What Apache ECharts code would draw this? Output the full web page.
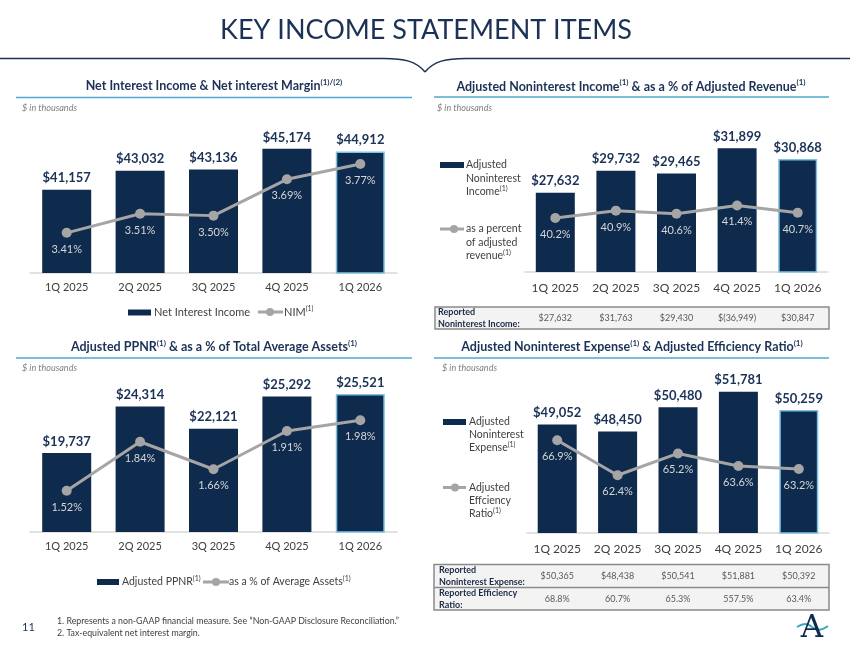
<!DOCTYPE html>
<html><head><meta charset="utf-8">
<script src="https://cdn.jsdelivr.net/npm/echarts@6/dist/echarts.min.js"></script>
<style>html,body{margin:0;padding:0;background:#fff}#c{width:850px;height:657px}</style>
</head><body><div id="c"></div>
<script>
// ---------- DATA ----------
const categories = ['1Q 2025', '2Q 2025', '3Q 2025', '4Q 2025', '1Q 2026'];
const netInterestIncome = [41157, 43032, 43136, 45174, 44912];
const nim = [3.41, 3.51, 3.50, 3.69, 3.77];
const adjNonintIncome = [27632, 29732, 29465, 31899, 30868];
const nonintPctRevenue = [40.2, 40.9, 40.6, 41.4, 40.7];
const reportedNonintIncome = ['$27,632', '$31,763', '$29,430', '$(36,949)', '$30,847'];
const adjPPNR = [19737, 24314, 22121, 25292, 25521];
const ppnrPctAssets = [1.52, 1.84, 1.66, 1.91, 1.98];
const adjNonintExpense = [49052, 48450, 50480, 51781, 50259];
const adjEfficiency = [66.9, 62.4, 65.2, 63.6, 63.2];
const reportedNonintExpense = ['$50,365', '$48,438', '$50,541', '$51,881', '$50,392'];
const reportedEfficiency = ['68.8%', '60.7%', '65.3%', '557.5%', '63.4%'];

// ---------- STYLE ----------
const FONT = 'Lato';
const NAVY = '#0e2a4d';
const TITLE = '#1b3256';
const GRAY_LINE = '#a5a5a5';
const LBL = '#d6d6d6';
const AX = '#404040';
const ACCENT = '#4fa9cf';

const chart = echarts.init(document.getElementById('c'));

const grids = [
  { left: 30, top: 120, width: 367, height: 153 },
  { left: 525, top: 116, width: 303, height: 156 },
  { left: 30, top: 379, width: 367, height: 153 },
  { left: 527, top: 377, width: 302, height: 156 }
].map(g => Object.assign({ containLabel: false, outerBoundsMode: 'none' }, g));

const xAxes = [0, 1, 2, 3].map(i => ({
  type: 'category', gridIndex: i, data: categories,
  axisLine: { lineStyle: { color: '#d9d9d9', width: 1.5 } },
  axisTick: { show: false },
  axisLabel: { interval: 0, hideOverlap: false, fontFamily: FONT, fontSize: (i % 2 ? 12 : 11), color: AX, margin: (i % 2 ? 10 : 9) }
}));

function yA(grid, min, max) {
  return { type: 'value', gridIndex: grid, min, max, show: false, splitLine: { show: false } };
}
const yAxes = [
  yA(0, 33000, 48000), yA(0, 3.2, 4.0),
  yA(1, 20000, 35000), yA(1, 35, 50),
  yA(2, 12000, 27000), yA(2, 1.25, 2.25),
  yA(3, 40000, 53000), yA(3, 55, 75)
];

function money(v) { return '$' + v.toLocaleString('en-US'); }

function barSeries(name, values, axis, barW) {
  return {
    name, type: 'bar', xAxisIndex: axis, yAxisIndex: axis * 2, barWidth: barW,
    data: values.map((v, i) => i === values.length - 1
      ? { value: v, itemStyle: { borderColor: '#7cc3e3', borderWidth: 1.5 } } : v),
    itemStyle: { color: NAVY },
    label: { show: true, position: 'top', distance: 5, formatter: p => money(p.value),
      fontFamily: FONT, fontWeight: 'bold', fontSize: 13, color: TITLE },
    z: 2
  };
}
function lineSeries(name, values, axis, dec) {
  return {
    name, type: 'line', xAxisIndex: axis, yAxisIndex: axis * 2 + 1,
    data: values, symbol: 'circle', symbolSize: 10,
    lineStyle: { color: GRAY_LINE, width: 3 },
    itemStyle: { color: GRAY_LINE },
    label: { show: true, position: 'bottom', distance: 6, formatter: p => p.value.toFixed(dec) + '%',
      fontFamily: FONT, fontSize: 11, color: LBL },
    z: 3
  };
}

chart.setOption({
  animation: false,
  backgroundColor: '#ffffff',
  grid: grids, xAxis: xAxes, yAxis: yAxes,
  series: [
    barSeries('Net Interest Income', netInterestIncome, 0, 49),
    lineSeries('NIM', nim, 0, 2),
    barSeries('Adjusted Noninterest Income', adjNonintIncome, 1, 39),
    lineSeries('as a percent of adjusted revenue', nonintPctRevenue, 1, 1),
    barSeries('Adjusted PPNR', adjPPNR, 2, 49),
    lineSeries('as a % of Average Assets', ppnrPctAssets, 2, 2),
    barSeries('Adjusted Noninterest Expense', adjNonintExpense, 3, 39),
    lineSeries('Adjusted Efficiency Ratio', adjEfficiency, 3, 1)
  ]
});

// ---------- decorations ----------
const G = [];
function txt(x, y, text, o) {
  G.push({ type: 'text', silent: true, z: 10, style: Object.assign({
    x, y, text, fontFamily: FONT, fontSize: 11, fill: AX, align: 'left', verticalAlign: 'middle' }, o || {}) });
}
function line(x1, y1, x2, y2, color, w) {
  G.push({ type: 'line', silent: true, z: 5, shape: { x1, y1, x2, y2 }, style: { stroke: color, lineWidth: w } });
}
function bez(x1, y1, cpx1, cpy1, cpx2, cpy2, x2, y2, color, w) {
  G.push({ type: 'bezierCurve', silent: true, z: 5, shape: { x1, y1, cpx1, cpy1, cpx2, cpy2, x2, y2 },
    style: { stroke: color, lineWidth: w, fill: null } });
}
function rect(x, y, w, h, fill, stroke, lw) {
  G.push({ type: 'rect', silent: true, z: 4, shape: { x, y, width: w, height: h },
    style: { fill: fill, stroke: stroke || null, lineWidth: lw || 0 } });
}
function circ(cx, cy, r, fill) {
  G.push({ type: 'circle', silent: true, z: 6, shape: { cx, cy, r }, style: { fill } });
}
function title(cx, cy, rich) {
  txt(cx, cy, rich, { align: 'center', rich: {
    t: { fontFamily: FONT, fontSize: 12.5, fontWeight: 'bold', fill: TITLE, color: TITLE, lineHeight: 16 },
    s: { fontFamily: FONT, fontSize: 8, fontWeight: 'bold', fill: TITLE, color: TITLE, verticalAlign: 'top', lineHeight: 16 }
  } });
}
const supRich = {
  n: { fontFamily: FONT, fontSize: 10.5, fill: AX, color: AX, lineHeight: 13 },
  s: { fontFamily: FONT, fontSize: 7, fill: AX, color: AX, verticalAlign: 'top', lineHeight: 13 }
};

// Main title
txt(426, 30, 'KEY INCOME STATEMENT ITEMS', { align: 'center', fontSize: 27, fill: TITLE });
// header brace line
const HC = '#1d3152';
line(0, 58.5, 384, 58.5, HC, 1.5);
bez(384, 58.5, 404, 58.5, 416, 61, 425, 72, HC, 1.5);
bez(425, 72, 434, 61, 446, 58.5, 466, 58.5, HC, 1.5);
line(466, 58.5, 850, 58.5, HC, 1.5);

// Section titles
title(214, 86, '{t|Net Interest Income & Net interest Margin}{s|(1)/(2)}');
title(631, 86.5, '{t|Adjusted Noninterest Income}{s|(1)}{t| & as a % of Adjusted Revenue}{s|(1)}');
title(214, 347, '{t|Adjusted PPNR}{s|(1)}{t| & as a % of Total Average Assets}{s|(1)}');
title(632, 347, '{t|Adjusted Noninterest Expense}{s|(1)}{t| & Adjusted Efficiency Ratio}{s|(1)}');
line(16, 97.5, 412, 97.5, ACCENT, 1.5);
line(434, 97, 829, 97, ACCENT, 1.5);
line(16, 358, 412, 358, ACCENT, 1.5);
line(434, 358, 829, 358, ACCENT, 1.5);
const itl = { fontSize: 9, fontStyle: 'italic', fill: '#808080' };
txt(22, 108, '$ in thousands', itl);
txt(437, 108, '$ in thousands', itl);
txt(22, 368.5, '$ in thousands', itl);
txt(442, 368.5, '$ in thousands', itl);

// Legend chart 1
rect(128, 309.5, 23, 6, NAVY);
txt(154, 312, 'Net Interest Income', { fontSize: 11, fill: AX });
line(258, 312, 283, 312, GRAY_LINE, 3); circ(270, 312, 4, GRAY_LINE);
txt(284, 312, '{n|NIM}{s|(1)}', { rich: Object.assign({}, supRich, { n: Object.assign({}, supRich.n, { fontSize: 11 }) }) });

// Legend chart 3
rect(97, 579, 22, 6, NAVY);
txt(122, 582, '{n|Adjusted PPNR}{s|(1)}', { rich: supRich });
line(203, 582, 229, 582, GRAY_LINE, 3); circ(216, 582, 4, GRAY_LINE);
txt(229, 582, '{n|as a % of Average Assets}{s|(1)}', { rich: supRich });

// Legend chart 2 (vertical)
rect(440, 162, 24, 6, NAVY);
txt(466, 165, 'Adjusted', { fontSize: 10.5 });
txt(466, 178.5, 'Noninterest', { fontSize: 10.5 });
txt(466, 191.5, '{n|Income}{s|(1)}', { rich: supRich });
line(440, 229, 464, 229, GRAY_LINE, 3); circ(454, 229, 4, GRAY_LINE);
txt(466, 229, 'as a percent', { fontSize: 10.5 });
txt(466, 243, 'of adjusted', { fontSize: 10.5 });
txt(466, 256, '{n|revenue}{s|(1)}', { rich: supRich });

// Legend chart 4 (vertical)
rect(443, 419, 23, 6, NAVY);
txt(469, 422, 'Adjusted', { fontSize: 10.5 });
txt(469, 435, 'Noninterest', { fontSize: 10.5 });
txt(469, 448, '{n|Expense}{s|(1)}', { rich: supRich });
line(443, 487.5, 466, 487.5, GRAY_LINE, 3); circ(455, 487.5, 4, GRAY_LINE);
txt(469, 487.5, 'Adjusted', { fontSize: 10.5 });
txt(469, 500.5, 'Effciency', { fontSize: 10.5 });
txt(469, 513.5, '{n|Ratio}{s|(1)}', { rich: supRich });

// Tables
const tLbl = { fontSize: 9, fontWeight: 'bold', fill: '#1b2a44' };
const tVal = { fontSize: 9, fill: '#595959', align: 'center' };
rect(435, 307, 394, 22, '#f3f3f3', '#8a8a8a', 1.5);
txt(438, 312.5, 'Reported', tLbl);
txt(438, 324.5, 'Noninterest Income:', tLbl);
categories.forEach((c, i) => {
  const x = chart.convertToPixel({ xAxisIndex: 1 }, c);
  txt(x, 318.5, reportedNonintIncome[i], tVal);
});
rect(434, 564.5, 395, 45.5, '#f3f3f3', '#8a8a8a', 1.5);
line(434, 587.5, 829, 587.5, '#8a8a8a', 1.5);
txt(439, 570.5, 'Reported', tLbl);
txt(439, 582, 'Noninterest Expense:', tLbl);
txt(439, 593.5, 'Reported Efficiency', tLbl);
txt(439, 605, 'Ratio:', tLbl);
categories.forEach((c, i) => {
  const x = chart.convertToPixel({ xAxisIndex: 3 }, c);
  txt(x, 576.5, reportedNonintExpense[i], tVal);
  txt(x, 599, reportedEfficiency[i], tVal);
});

// Footnotes
txt(22, 627, '11', { fontSize: 11, fill: TITLE });
txt(57, 621, '1. Represents a non-GAAP financial measure. See \u201cNon-GAAP Disclosure Reconciliation.\u201d', { fontSize: 8.8, fill: '#404040' });
txt(57, 633, '2. Tax-equivalent net interest margin.', { fontSize: 8.8, fill: '#404040' });

// Logo
txt(812, 629, 'A', { align: 'center', fontSize: 31, fontFamily: 'DejaVu Serif', fill: NAVY });
bez(797, 627, 803, 623, 808, 623, 812, 627, '#3aa7ba', 2);
bez(812, 627, 816, 631, 821, 631, 828, 626, '#3aa7ba', 2);

chart.setOption({ graphic: { elements: G } });
</script></body></html>
